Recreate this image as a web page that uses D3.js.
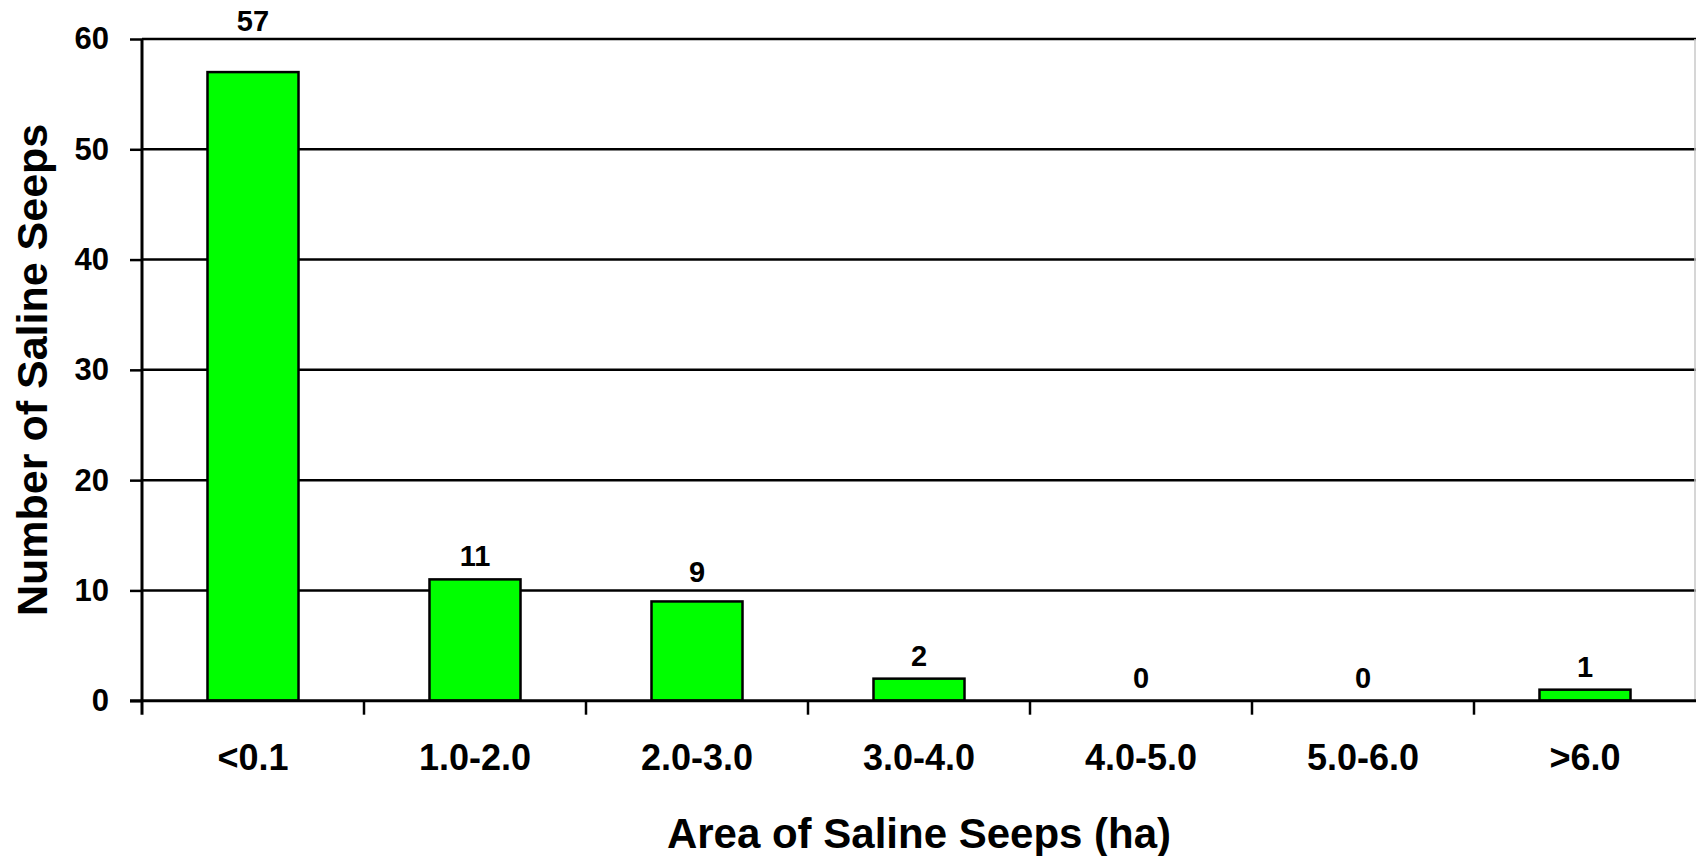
<!DOCTYPE html>
<html>
<head>
<meta charset="utf-8">
<script src="https://cdn.jsdelivr.net/npm/d3@7/dist/d3.min.js"></script>
<style>
  html, body { margin: 0; padding: 0; background: #fff; }
  svg { display: block; }
  text { font-family: "Liberation Sans", Arial, sans-serif; font-weight: bold; fill: #000; }
</style>
</head>
<body>
<svg id="chart" width="1696" height="856"></svg>
<script>
const categories = ["<0.1", "1.0-2.0", "2.0-3.0", "3.0-4.0", "4.0-5.0", "5.0-6.0", ">6.0"];
const counts = [57, 11, 9, 2, 0, 0, 1];
const yTicks = [0, 10, 20, 30, 40, 50, 60];
const xTitle = "Area of Saline Seeps (ha)";
const yTitle = "Number of Saline Seeps";

(function () {
const svg = d3.select("#chart");
const mLeft = 142, mRight = 1696, mTop = 39, mBottom = 700.7;
const pad = 0.59;

const x = d3.scaleBand().domain(categories).range([mLeft, mRight])
  .paddingInner(pad).paddingOuter(pad / 2);
const y = d3.scaleLinear().domain([0, 60]).range([mBottom, mTop]);

// gridlines
svg.append("g").selectAll("line").data(yTicks.filter(d => d > 0)).join("line")
  .attr("x1", mLeft).attr("x2", mRight)
  .attr("y1", d => y(d)).attr("y2", d => y(d))
  .attr("stroke", "#000").attr("stroke-width", 2.5);

// right border (faint)
svg.append("line").attr("x1", 1695).attr("x2", 1695).attr("y1", mTop).attr("y2", mBottom)
  .attr("stroke", "#c8c8c8").attr("stroke-width", 1.5);

// bars
svg.append("g").selectAll("rect").data(counts).join("rect")
  .attr("x", (d, i) => x(categories[i]))
  .attr("width", x.bandwidth())
  .attr("y", d => y(d))
  .attr("height", d => y(0) - y(d))
  .attr("fill", "#00ff00")
  .attr("stroke", "#000").attr("stroke-width", 2.5);

// value labels: placed above bar; if a gridline would cross the label, lift it above that gridline
function labelY(v) {
  let base = y(v) - 13;
  const capH = 21;
  yTicks.filter(t => t > 0).forEach(t => {
    const gy = y(t);
    if (gy >= base - capH - 2 && gy <= base + 4) base = Math.min(base, gy - 8);
  });
  return base;
}
svg.append("g").selectAll("text").data(counts).join("text")
  .attr("x", (d, i) => x(categories[i]) + x.bandwidth() / 2)
  .attr("y", d => labelY(d))
  .attr("text-anchor", "middle")
  .style("font-size", "29px")
  .text(d => d);

// y axis
const yAxis = d3.axisLeft(y).tickValues(yTicks).tickSize(12).tickPadding(21).tickFormat(d3.format("d"));
const gy = svg.append("g").attr("transform", `translate(${mLeft},0)`).call(yAxis);
gy.select(".domain").remove();
gy.selectAll(".tick line").attr("stroke", "#000").attr("stroke-width", 2.5);
gy.selectAll(".tick text").style("font-size", "31px").style("font-family", "'Liberation Sans', Arial, sans-serif").style("font-weight", "bold").attr("fill", "#000");
svg.append("line").attr("x1", mLeft).attr("x2", mLeft).attr("y1", mTop).attr("y2", mBottom + 14)
  .attr("stroke", "#000").attr("stroke-width", 3);

// x axis line
svg.append("line").attr("x1", mLeft - 12).attr("x2", mRight).attr("y1", mBottom).attr("y2", mBottom)
  .attr("stroke", "#000").attr("stroke-width", 3);

// x ticks at band boundaries
const bounds = d3.range(1, categories.length).map(i => mLeft + i * x.step());
svg.append("g").selectAll("line").data(bounds).join("line")
  .attr("x1", d => d).attr("x2", d => d)
  .attr("y1", mBottom).attr("y2", mBottom + 14)
  .attr("stroke", "#000").attr("stroke-width", 2.5);

// x tick labels
svg.append("g").selectAll("text").data(categories).join("text")
  .attr("x", d => x(d) + x.bandwidth() / 2)
  .attr("y", mBottom + 69)
  .attr("text-anchor", "middle")
  .style("font-size", "36px")
  .text(d => d);

// axis titles
svg.append("text")
  .attr("x", (mLeft + mRight) / 2).attr("y", 848)
  .attr("text-anchor", "middle")
  .style("font-size", "42px")
  .text(xTitle);

svg.append("text")
  .attr("transform", `translate(47,${(mTop + mBottom) / 2}) rotate(-90)`)
  .attr("text-anchor", "middle")
  .style("font-size", "43px")
  .text(yTitle);
})();
</script>
</body>
</html>
